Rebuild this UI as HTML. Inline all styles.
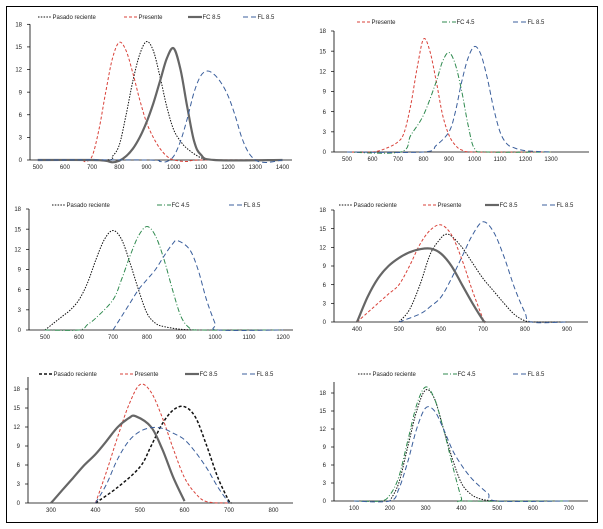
<!DOCTYPE html>
<html><head><meta charset="utf-8"><style>
html,body{margin:0;padding:0;background:#fff;}
svg{display:block;font-family:"Liberation Sans",sans-serif;}
</style></head><body>
<svg id="chart" width="603" height="529" viewBox="0 0 603 529" xmlns="http://www.w3.org/2000/svg">
<rect x="6.5" y="6.5" width="591" height="516" fill="none" stroke="#000" stroke-width="1"/>
</svg>
<script>
// ---- Data: panel 1 ----
const p1PasadoX=[500,750,775,800,825,850,875,900,925,950,975,1000,1025,1050,1100,1150,1400];
const p1PasadoY=[0,0,0.5,2,6,10.5,14,15.7,14.5,11,7,4,2.5,1.5,0.3,0,0];
const p1PresenteX=[500,650,675,700,725,750,775,800,825,850,875,900,925,950,975,1000,1050,1100,1400];
const p1PresenteY=[0,0,-0.2,0.5,4,9,13.5,15.6,14.5,11.5,8,5,3,1.5,0.5,0,-0.2,0,0];
const p1FC85X=[500,700,750,775,800,825,850,875,900,925,950,975,1000,1025,1050,1075,1100,1150,1400];
const p1FC85Y=[0,0,-0.1,-0.3,-0.1,0.5,1.5,3,5,7.5,10.5,13.5,14.8,12,7,2.5,0.7,0,0];
const p1FL85X=[500,900,950,975,1000,1025,1050,1075,1100,1125,1150,1175,1200,1225,1250,1275,1300,1325,1350,1400];
const p1FL85Y=[0,0,-0.2,-0.2,0.5,2.5,5.5,9,11.2,11.8,11.3,10.2,8.5,6,3,1,0,-0.3,-0.3,0];
// ---- panel 2 ----
const p2PresenteX=[500,600,650,700,725,750,775,800,825,850,875,900,925,950,1000,1300];
const p2PresenteY=[0,0,0.5,1.5,3,7,12.5,16.8,15,10.5,5.5,2.5,1,0.3,0,0];
const p2FC45X=[500,710,750,800,850,875,900,925,950,975,1000,1050,1300];
const p2FC45Y=[0,0,2.5,5.5,10.5,13.5,14.8,13,9,4,0.5,0,0];
const p2FL85X=[500,800,850,900,925,950,975,1000,1025,1050,1075,1100,1125,1150,1200,1300];
const p2FL85Y=[0,0,1,3,6,10.5,14,15.7,14.5,11,6.5,3,1.3,0.7,0.2,0];
// ---- panel 3 ----
const p3PasadoX=[500,525,550,575,600,625,650,675,700,725,750,775,800,825,850,900,950];
const p3PasadoY=[0,1,2,3,4.5,7,10.5,13.5,14.8,13.5,10,6,2.5,1,0.5,0.1,0];
const p3FC45X=[500,600,625,650,700,725,750,775,800,825,850,875,900,925,950,1200];
const p3FC45Y=[0,0,0.8,1.8,4.5,7.5,11,14,15.4,14,10.5,6,2,0.3,0,0];
const p3FL85X=[700,725,750,775,800,825,850,875,890,925,950,975,1000,1010,1200];
const p3FL85Y=[0,2,4,6,7.5,9,11,12.8,13.3,12,9,4.5,1,0,0];
// ---- panel 4 ----
const p4PasadoX=[500,525,550,575,600,612,625,650,675,700,725,750,775,800,825,900];
const p4PasadoY=[0,2,6,11,13.5,14.1,13.8,12,9.5,7,5,3,1.2,0.2,0,0];
const p4PresenteX=[400,425,450,475,500,525,550,575,600,625,650,675,700,705];
const p4PresenteY=[0,1.5,3,4.5,6,9,12.5,14.8,15.6,14,10,5,0.5,0];
const p4FC85X=[400,425,450,475,500,525,550,575,600,625,650,675,700,705];
const p4FC85Y=[0,4,7,9,10.3,11.2,11.7,11.8,11,9,6,3,0.3,0];
const p4FL85X=[500,550,575,600,625,650,675,700,725,750,775,800,815,900];
const p4FL85Y=[0,1.3,2.5,4,7,10.5,14,16.1,14.5,10.5,5.5,1.5,0,0];
// ---- panel 5 ----
const p5PasadoX=[400,450,500,525,550,575,600,625,650,675,700,705];
const p5PasadoY=[0,2.5,5.7,9,12.5,14.7,15.2,13.5,9,4,0.3,0];
const p5PresenteX=[400,425,450,475,500,525,550,575,600,625,650,700];
const p5PresenteY=[0,5,10.5,15.5,18.7,17.5,13.5,8.5,4,1.5,0.2,0];
const p5FC85X=[300,325,350,375,400,425,450,475,490,525,550,575,600];
const p5FC85Y=[0,2,4,6,7.7,9.8,12,13.4,13.7,12,8.5,4,0.3];
const p5FL85X=[400,425,450,475,500,525,550,575,600,625,650,675,700];
const p5FL85Y=[0,3,7,9.8,11.3,11.9,11.8,11,10,8,5.5,2.5,0];
// ---- panel 6 ----
const p6PasadoX=[200,225,250,275,300,325,350,375,400,425,450,475,500];
const p6PasadoY=[0,3,9,15,18.5,17,12,7,3,1.2,0.4,0.1,0];
const p6FC45X=[100,175,200,225,250,275,300,325,350,375,400,410,700];
const p6FC45Y=[0,0,1,4,10,16,19,17,12,6,0.5,0,0];
const p6FL85X=[100,200,225,250,275,300,325,350,375,400,425,450,475,500,700];
const p6FL85Y=[0,0,2,6.5,12,15.5,15,12,8.5,6,4,2.5,1.2,0,0];
// tick labels
const yTicks=[0,3,6,9,12,15,18];
const xTicks1=[500,600,700,800,900,1000,1100,1200,1300,1400];
const xTicks2=[500,600,700,800,900,1000,1100,1200,1300];
const xTicks3=[500,600,700,800,900,1000,1100,1200];
const xTicks4=[400,500,600,700,800,900];
const xTicks5=[300,400,500,600,700,800];
const xTicks6=[100,200,300,400,500,600,700];

const STY={
 pasado:{c:"#111",w:1,d:"1.5,1.3",label:"Pasado reciente"},
 pasado5:{c:"#111",w:1.5,d:"3,2",label:"Pasado reciente"},
 presente:{c:"#d9423a",w:1,d:"3,2",label:"Presente"},
 fc85:{c:"#666",w:2.2,d:"",label:"FC 8.5"},
 fl85:{c:"#3b5f9c",w:1,d:"5,3",label:"FL 8.5"},
 fc45:{c:"#2f8a4f",w:1,d:"5,2,1,2",label:"FC 4.5"}
};
const panels=[
 {n:1,ax:30,x0v:500,x0:37.7,ppu:0.272,y0:160,y18:24.3,xend:292,ytop:24.3,xt:xTicks1,ly:17,
  s:[["pasado",p1PasadoX,p1PasadoY,38],["presente",p1PresenteX,p1PresenteY,124],["fc85",p1FC85X,p1FC85Y,188],["fl85",p1FL85X,p1FL85Y,243]]},
 {n:2,ax:334,x0v:500,x0:347,ppu:0.255,y0:152,y18:31,xend:589,ytop:31,xt:xTicks2,ly:22,
  s:[["presente",p2PresenteX,p2PresenteY,357],["fc45",p2FC45X,p2FC45Y,442],["fl85",p2FL85X,p2FL85Y,513]]},
 {n:3,ax:29,x0v:500,x0:45,ppu:0.34,y0:330,y18:209,xend:293,ytop:209,xt:xTicks3,ly:205,
  s:[["pasado",p3PasadoX,p3PasadoY,52],["fc45",p3FC45X,p3FC45Y,157],["fl85",p3FL85X,p3FL85Y,229]]},
 {n:4,ax:334,x0v:400,x0:357,ppu:0.42,y0:322,y18:210,xend:588,ytop:210,xt:xTicks4,ly:205,
  s:[["pasado",p4PasadoX,p4PasadoY,339],["presente",p4PresenteX,p4PresenteY,423],["fc85",p4FC85X,p4FC85Y,485],["fl85",p4FL85X,p4FL85Y,542]]},
 {n:5,ax:28,x0v:300,x0:51,ppu:0.445,y0:503,y18:389,xend:293,ytop:377,xt:xTicks5,ly:374,
  s:[["pasado5",p5PasadoX,p5PasadoY,39],["presente",p5PresenteX,p5PresenteY,120],["fc85",p5FC85X,p5FC85Y,185],["fl85",p5FL85X,p5FL85Y,242]]},
 {n:6,ax:334,x0v:100,x0:354,ppu:0.358,y0:501,y18:393,xend:588,ytop:382,xt:xTicks6,ly:374,
  s:[["pasado",p6PasadoX,p6PasadoY,358],["fc45",p6FC45X,p6FC45Y,443],["fl85",p6FL85X,p6FL85Y,513]]}
];
const NS="http://www.w3.org/2000/svg";
const svg=document.getElementById('chart');
function mk(t,a,p){const e=document.createElementNS(NS,t);for(const k in a)e.setAttribute(k,a[k]);(p||svg).appendChild(e);return e;}
function pathFor(pts){
 let d="M"+pts[0][0].toFixed(1)+","+pts[0][1].toFixed(1);
 for(let i=0;i<pts.length-1;i++){
  const p0=pts[i-1]||pts[i],p1=pts[i],p2=pts[i+1],p3=pts[i+2]||p2;
  const c1=[p1[0]+(p2[0]-p0[0])/6,p1[1]+(p2[1]-p0[1])/6];
  const c2=[p2[0]-(p3[0]-p1[0])/6,p2[1]-(p3[1]-p1[1])/6];
  d+=" C"+c1[0].toFixed(1)+","+c1[1].toFixed(1)+" "+c2[0].toFixed(1)+","+c2[1].toFixed(1)+" "+p2[0].toFixed(1)+","+p2[1].toFixed(1);
 }
 return d;
}
panels.forEach(P=>{
 const g=mk('g',{});
 
 
 const xs=v=>P.x0+(v-P.x0v)*P.ppu;
 const ys=v=>P.y0-(v/18)*(P.y0-P.y18);
 const ya=mk('line',{x1:P.ax,y1:P.ytop,x2:P.ax,y2:P.y0,stroke:"#000","stroke-width":0.8},g);
 
 
 const xa=mk('line',{x1:P.ax,y1:P.y0,x2:P.xend,y2:P.y0,stroke:"#000","stroke-width":0.8},g);
 
 
 yTicks.forEach(t=>{
  const y=ys(t);
  mk('line',{x1:P.ax-3,y1:y,x2:P.ax,y2:y,stroke:"#000","stroke-width":0.7},g);
  const tx=mk('text',{x:P.ax-8,y:y+2.2,"font-size":6,"text-anchor":"end",fill:"#222"},g);
  tx.textContent=t;
  
  
 });
 P.xt.forEach(t=>{
  const tx=mk('text',{x:xs(t),y:P.y0+9,"font-size":6,"text-anchor":"middle",fill:"#222"},g);
  tx.textContent=t;
  
  
 });
 P.s.forEach(([k,X,Y,lx])=>{
  const st=STY[k];
  const pts=X.map((v,i)=>[xs(v),ys(Y[i])]);
  const p=mk('path',{d:pathFor(pts),fill:"none",stroke:st.c,"stroke-width":st.w,"stroke-dasharray":st.d},g);
  
  
  const le=mk('line',{x1:lx,y1:P.ly,x2:lx+14,y2:P.ly,stroke:st.c,"stroke-width":st.w,"stroke-dasharray":st.d},g);
  
  
  const lt=mk('text',{x:lx+14.5,y:P.ly+2.2,"font-size":6,fill:"#222"},g);
  lt.textContent=st.label;
  
  
 });
});
</script>
</body></html>
